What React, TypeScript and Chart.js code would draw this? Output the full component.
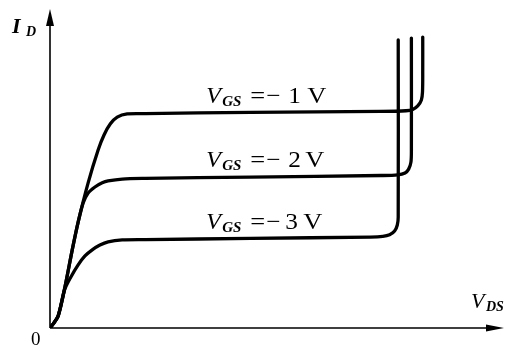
import React, { useEffect, useRef } from "react";
import { Chart, registerables } from "chart.js";

Chart.register(...registerables);

// Output characteristics of an n-channel JFET: I_D versus V_DS for three gate voltages.
// Values are in relative units (0–100 on both axes).
const gateLabels = ["1", "2", "3"];

const curveVgs1 = [
  [0, 0], [0.7, 1.3], [1.8, 3.8], [3.3, 12.9], [4.9, 24.5], [6.2, 33.2],
  [8.4, 45.5], [10.6, 55.8], [11.9, 60.5], [13.3, 64.0], [14.8, 66.1],
  [17.0, 67.1], [21.0, 67.2], [44.2, 67.6], [72.9, 67.9], [78.4, 68.1],
  [79.9, 68.5], [81.0, 69.6], [81.8, 71.5], [82.05, 74.0], [82.1, 80.9], [82.1, 91.2],
];

const curveVgs2 = [
  [0, 0], [0.7, 1.3], [1.8, 3.8], [3.3, 12.9], [4.9, 24.5], [6.2, 33.2],
  [7.3, 39.2], [8.4, 42.3], [9.9, 44.2], [11.5, 45.5], [12.8, 46.1],
  [15.9, 46.7], [21.0, 46.9], [44.2, 47.3], [72.9, 47.8], [76.6, 48.0],
  [78.2, 48.6], [79.0, 49.8], [79.5, 52.0], [79.6, 55.8], [79.6, 90.9],
];

const curveVgs3 = [
  [0, 0], [0.7, 1.3], [1.8, 3.8], [3.2, 11.9], [4.6, 16.0], [6.2, 19.8],
  [7.7, 22.6], [9.3, 24.5], [11.0, 26.0], [12.8, 27.0], [15.9, 27.6],
  [21.0, 27.7], [44.2, 28.1], [70.6, 28.5], [73.3, 28.7], [74.8, 29.2],
  [75.9, 30.4], [76.5, 32.3], [76.7, 34.8], [76.7, 90.3],
];

// Saturation-region level of each curve, used to place its V_GS label
const plateauLevels = [67.5, 47.2, 28.0];
const labelX = 34.4;

const xMax = 100;
const yMax = 100;

const toPoints = (arr: number[][]) => arr.map(([x, y]) => ({ x, y }));

const SERIF = '"Liberation Serif", "DejaVu Serif", serif';

type Run = { t: string; font: string; dx: number; dy?: number; sx?: number };

// Draws text pieces at fixed offsets; sx widens upright glyphs a little
const drawRuns = (ctx: CanvasRenderingContext2D, x: number, y: number, runs: Run[]) => {
  for (const r of runs) {
    ctx.save();
    ctx.font = r.font;
    ctx.translate(x + r.dx, y + (r.dy || 0));
    ctx.scale(r.sx || 1, 1);
    ctx.fillText(r.t, 0, 0);
    ctx.restore();
  }
};

const diagramPlugin = {
  id: "diagram",
  afterDatasetsDraw(chart: any) {
    const { ctx, chartArea, scales } = chart;
    const { left, right, top, bottom } = chartArea;
    ctx.save();
    ctx.strokeStyle = "#000";
    ctx.fillStyle = "#000";
    ctx.lineWidth = 1.6;

    // axes
    ctx.beginPath();
    ctx.moveTo(left, bottom);
    ctx.lineTo(left, top + 12);
    ctx.moveTo(left, bottom);
    ctx.lineTo(right - 14, bottom);
    ctx.stroke();

    // arrow heads
    ctx.beginPath();
    ctx.moveTo(left, top);
    ctx.lineTo(left - 4, top + 17);
    ctx.lineTo(left + 4, top + 17);
    ctx.closePath();
    ctx.fill();
    ctx.beginPath();
    ctx.moveTo(right, bottom);
    ctx.lineTo(right - 18, bottom - 3.5);
    ctx.lineTo(right - 18, bottom + 3.5);
    ctx.closePath();
    ctx.fill();

    ctx.textBaseline = "alphabetic";
    ctx.textAlign = "left";

    // axis titles
    drawRuns(ctx, 12, 33, [
      { t: "I", font: `italic bold 22px ${SERIF}`, dx: 0 },
      { t: "D", font: `italic bold 14px ${SERIF}`, dx: 14, dy: 3 },
    ]);
    drawRuns(ctx, 471, 308, [
      { t: "V", font: `italic 22px ${SERIF}`, dx: 0 },
      { t: "DS", font: `italic bold 14px ${SERIF}`, dx: 15, dy: 3 },
    ]);
    ctx.font = `19px ${SERIF}`;
    ctx.fillText("0", left - 19, bottom + 17);

    // curve labels
    const digitDx = [82, 82, 79];
    const unitDx = [101, 99, 97];
    const xs = scales.x.getPixelForValue(labelX);
    plateauLevels.forEach((lv, i) => {
      const base = scales.y.getPixelForValue(lv) - 10;
      drawRuns(ctx, xs, base, [
        { t: "V", font: `italic 24px ${SERIF}`, dx: 0 },
        { t: "GS", font: `italic bold 15px ${SERIF}`, dx: 16, dy: 3 },
        { t: "=", font: `23px ${SERIF}`, dx: 44, sx: 1.15 },
        { t: "\u2212", font: `23px ${SERIF}`, dx: 60, sx: 1.1 },
        { t: gateLabels[i], font: `23px ${SERIF}`, dx: digitDx[i], sx: 1.1 },
        { t: "V", font: `23px ${SERIF}`, dx: unitDx[i], sx: 1.15 },
      ]);
    });
    ctx.restore();
  },
};

export default function App() {
  const ref = useRef<HTMLCanvasElement | null>(null);

  useEffect(() => {
    if (!ref.current) return;
    const line = (data: number[][], label: string) => ({
      label,
      data: toPoints(data),
      showLine: true,
      borderColor: "#000",
      borderWidth: 3.3,
      pointRadius: 0,
      tension: 0.3,
      fill: false,
      borderCapStyle: "round" as const,
      borderJoinStyle: "round" as const,
    });
    const chart = new Chart(ref.current, {
      type: "scatter",
      data: {
        datasets: [
          line(curveVgs1, "VGS = -1 V"),
          line(curveVgs2, "VGS = -2 V"),
          line(curveVgs3, "VGS = -3 V"),
        ],
      },
      options: {
        animation: false,
        responsive: false,
        layout: { padding: { left: 50, right: 5, top: 9, bottom: 22 } },
        plugins: { legend: { display: false }, tooltip: { enabled: false } },
        scales: {
          x: { type: "linear", min: 0, max: xMax, display: false },
          y: { type: "linear", min: 0, max: yMax, display: false },
        },
      },
      plugins: [diagramPlugin],
    });
    return () => chart.destroy();
  }, []);

  return (
    <div style={{ position: "absolute", left: 0, top: 0, width: 509, height: 350, background: "#fff" }}>
      <canvas ref={ref} width={509} height={350} />
    </div>
  );
}
